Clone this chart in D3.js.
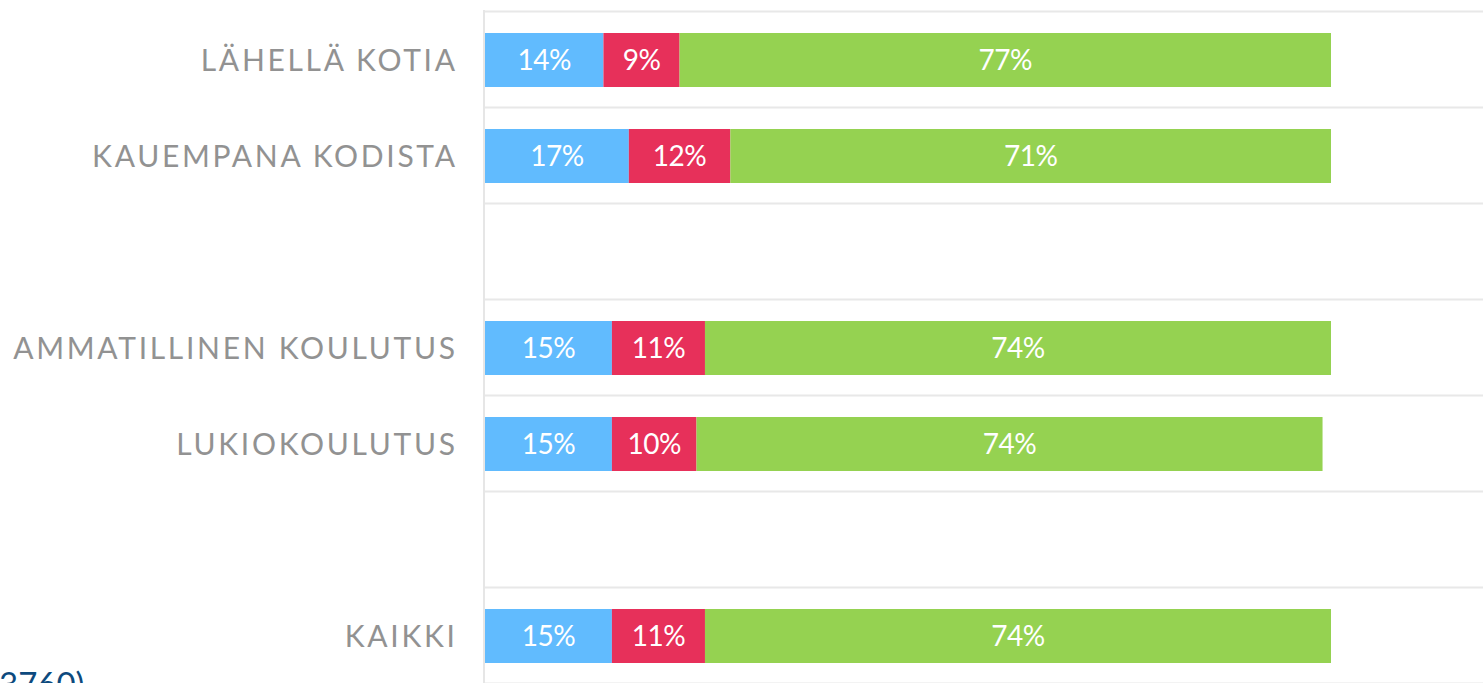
<!DOCTYPE html>
<html>
<head>
<meta charset="utf-8">
<script src="https://cdn.jsdelivr.net/npm/d3@7"></script>
<style>
  html, body { margin: 0; padding: 0; background: #fff; overflow: hidden; }
  svg { display: block; }
</style>
</head>
<body>
<svg id="chart" width="1483" height="683"></svg>
<script>
// ---- data ----
const categories = ["LÄHELLÄ KOTIA", "KAUEMPANA KODISTA", "", "AMMATILLINEN KOULUTUS", "LUKIOKOULUTUS", " ", "KAIKKI"];
const seriesBlue  = [14, 17, null, 15, 15, null, 15];
const seriesRed   = [9, 12, null, 11, 10, null, 11];
const seriesGreen = [77, 71, null, 74, 74, null, 74];
const seriesNames = ["blue", "red", "green"];
const seriesColors = ["#61bbfe", "#e7305a", "#95d251"];
const footnote = "3760)";

const svg = d3.select("#chart");
const W = 1483;

const x = d3.scaleLinear().domain([0, 100]).range([485, 1331]);
const y = d3.scaleBand().domain(d3.range(categories.length))
  .range([12, 684]).paddingInner(0.4375).paddingOuter(0.21875);
const step = y.step();

// grid lines (row boundaries)
const gridG = svg.append("g");
d3.range(categories.length + 1).forEach(i => {
  const yy = 12 + i * step - 0.5;
  gridG.append("line")
    .attr("x1", 484).attr("x2", W)
    .attr("y1", yy).attr("y2", yy)
    .attr("stroke", "#e8e8e8").attr("stroke-width", 2);
});
// left axis line
svg.append("line")
  .attr("x1", 484).attr("x2", 484)
  .attr("y1", 10).attr("y2", 690)
  .attr("stroke", "#e6e6e6").attr("stroke-width", 2);

// stacked data
const rows = categories.map((c, i) => ({ i, c, blue: seriesBlue[i], red: seriesRed[i], green: seriesGreen[i] }));
const stack = d3.stack().keys(seriesNames).value((d, k) => d[k] == null ? 0 : d[k]);
const stacked = stack(rows);

const barG = svg.append("g");
stacked.forEach((layer, li) => {
  layer.forEach(seg => {
    const d = seg.data;
    if (d[seriesNames[li]] == null) return;
    const x0 = x(seg[0]), x1 = x(seg[1]);
    barG.append("rect")
      .attr("x", x0).attr("y", y(d.i))
      .attr("width", x1 - x0).attr("height", y.bandwidth())
      .attr("fill", seriesColors[li]);
    barG.append("text")
      .attr("x", (x0 + x1) / 2)
      .attr("y", y(d.i) + y.bandwidth() / 2)
      .attr("dy", "0.37em")
      .attr("text-anchor", "middle")
      .attr("fill", "#fff")
      .attr("font-family", "Lato, 'Open Sans', sans-serif")
      .attr("font-size", 28)
      .attr("letter-spacing", -0.5)
      .text(d[seriesNames[li]] + "%");
  });
});

// category labels
const ls = 2.7;
svg.append("g").selectAll("text")
  .data(rows.filter(d => d.c.trim() !== ""))
  .join("text")
  .attr("x", 455 + ls)
  .attr("y", d => y(d.i) + y.bandwidth() / 2)
  .attr("dy", "0.37em")
  .attr("text-anchor", "end")
  .attr("fill", "#929292")
  .attr("font-family", "Lato, 'Open Sans', sans-serif")
  .attr("font-size", 30)
  .attr("letter-spacing", ls)
  .text(d => d.c);

// footnote (cut off at bottom, as in the reference)
svg.append("text")
  .attr("x", -1).attr("y", 696)
  .attr("fill", "#0d4a7e")
  .attr("font-family", "Lato, 'Open Sans', sans-serif")
  .attr("font-size", 33)
  .text(footnote);
</script>
</body>
</html>
